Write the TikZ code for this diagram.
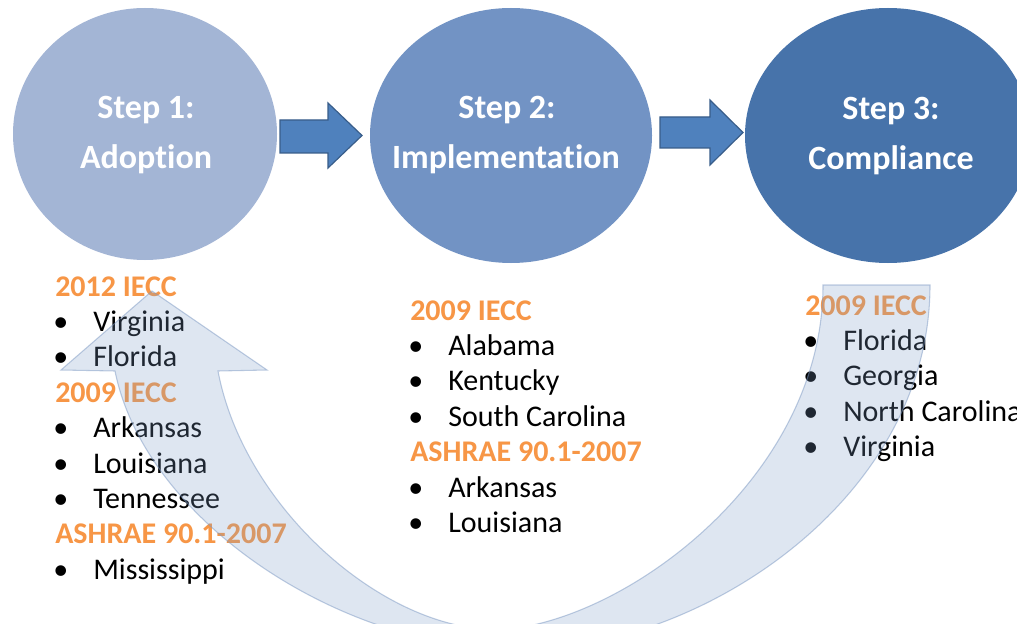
\documentclass[tikz,border=0pt]{standalone}
\usepackage{fontspec}
\setmainfont{Carlito}[Ligatures=NoCommon]
\usetikzlibrary{shapes.geometric}
\definecolor{cA}{RGB}{163,181,213}
\definecolor{cB}{RGB}{114,147,196}
\definecolor{cC}{RGB}{71,115,170}
\definecolor{arrowfill}{RGB}{79,129,189}
\definecolor{arrowline}{RGB}{56,93,138}
\definecolor{bandfill}{RGB}{127,159,203}
\definecolor{bandline}{RGB}{125,153,195}
\definecolor{orng}{RGB}{247,150,70}
\newcommand{\bulletbox}{\makebox[30pt][l]{•}}
\tikzset{
  stepcirc/.style={ellipse, draw=none, inner sep=0pt},
  steplbl/.style={anchor=base, text=white, inner sep=0pt, font=\fontsize{25.5}{30}\selectfont\bfseries},
  hdr/.style={anchor=base west, text=orng, inner sep=0pt, font=\fontsize{22.5}{27}\selectfont\bfseries},
  itm/.style={anchor=base west, text=black, inner sep=0pt, font=\fontsize{22.5}{27}\selectfont},
  blockarrow/.style={fill=arrowfill, draw=arrowline, line width=0.9pt, line join=miter},
  band/.style={fill=bandfill, fill opacity=0.25, draw=bandline, draw opacity=0.5, line width=0.8pt, line join=miter}
}
\begin{document}
\begin{tikzpicture}[x=0.75pt,y=-0.75pt]
\clip (0,0) rectangle (1017,624);
\fill[white] (0,0) rectangle (1017,624);

% circles
\node[stepcirc, fill=cA, minimum width=198pt, minimum height=189pt] (c1) at (145,134) {};
\node[stepcirc, fill=cB, minimum width=211.5pt, minimum height=191.25pt] (c2) at (511,135.5) {};
\node[stepcirc, fill=cC, minimum width=214.5pt, minimum height=191.25pt] (c3) at (888,135.5) {};

% labels
\node[steplbl] (s1a) at (146,119) {Step 1:};
\node[steplbl] (s1b) at (146,169) {Adoption};
\node[steplbl] (s2a) at (507,119) {Step 2:};
\node[steplbl] (s2b) at (506,169) {Implementation};
\node[steplbl] (s3a) at (891,120) {Step 3:};
\node[steplbl] (s3b) at (891,170) {Compliance};

% block arrows
\draw[blockarrow] (280,120) -- (328,120) -- (328,103) -- (362,135.5) -- (328,168) -- (328,153) -- (280,153) -- cycle;
\draw[blockarrow] (660,117) -- (710,117) -- (710,100) -- (743,132.5) -- (710,165) -- (710,148) -- (660,148) -- cycle;

% column 1
\node[hdr] (h11) at (55,296) {2012 IECC};
\node[itm] (i11) at (53,331.4) {\bulletbox Virginia};
\node[itm] (i12) at (53,366.8) {\bulletbox Florida};
\node[hdr] (h12) at (55,402.2) {2009 IECC};
\node[itm] (i13) at (53,437.6) {\bulletbox Arkansas};
\node[itm] (i14) at (53,473) {\bulletbox Louisiana};
\node[itm] (i15) at (53,508.4) {\bulletbox Tennessee};
\node[hdr] (h13) at (55,543.8) {ASHRAE 90.1-2007};
\node[itm] (i16) at (53,579.2) {\bulletbox Mississippi};

% column 2
\node[hdr] (h21) at (410,320) {2009 IECC};
\node[itm] (i21) at (408,355.4) {\bulletbox Alabama};
\node[itm] (i22) at (408,390.8) {\bulletbox Kentucky};
\node[itm] (i23) at (408,426.2) {\bulletbox South Carolina};
\node[hdr] (h22) at (410,461.6) {ASHRAE 90.1-2007};
\node[itm] (i24) at (408,497) {\bulletbox Arkansas};
\node[itm] (i25) at (408,532.4) {\bulletbox Louisiana};

% column 3
\node[hdr] (h31) at (805,315) {2009 IECC};
\node[itm] (i31) at (803,350.4) {\bulletbox Florida};
\node[itm] (i32) at (803,385.8) {\bulletbox Georgia};
\node[itm] (i33) at (803,421.2) {\bulletbox North Carolina};
\node[itm] (i34) at (803,456.6) {\bulletbox Virginia};

% big curved arrow (semi-transparent, over the text)
\path[band] (930,285)
  .. controls (930,500) and (700,650) .. (520,650)
  .. controls (340,650) and (145,520) .. (115,371)
  -- (61,370) -- (152,291) -- (267,370) -- (218,371)
  .. controls (245,515) and (400,645) .. (517,628)
  .. controls (640,610) and (823,470) .. (823,285)
  -- cycle;
\end{tikzpicture}
\end{document}
